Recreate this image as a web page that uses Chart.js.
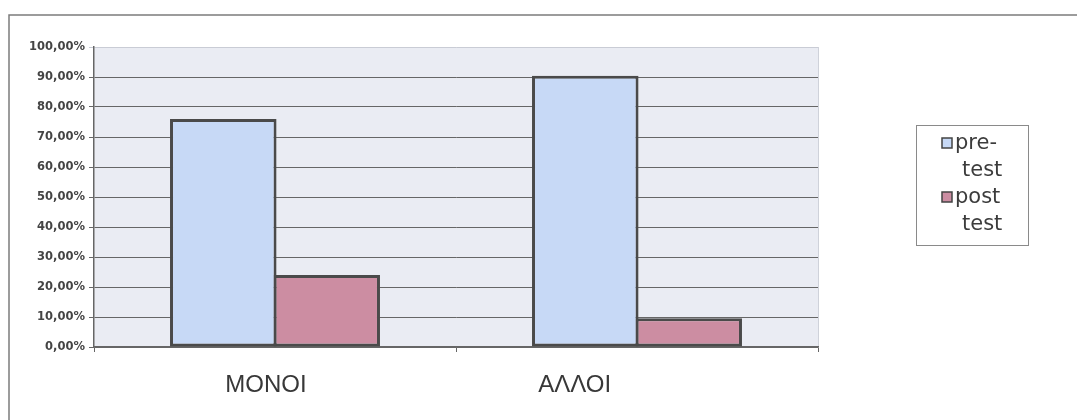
<!DOCTYPE html>
<html>
<head>
<meta charset="utf-8">
<script src="https://cdn.jsdelivr.net/npm/chart.js@4.4.1/dist/chart.umd.min.js"></script>
<style>
  html, body { margin: 0; padding: 0; background: #ffffff; }
  #wrap { width: 1077px; height: 420px; position: relative; }
</style>
</head>
<body>
<div id="wrap"><canvas id="chart" width="1077" height="420"></canvas></div>
<script>
// Share of answers per group, before and after the test (percent)
const categories = ["ΜΟΝΟΙ", "ΑΛΛΟΙ"];
const preTest = [76, 90.4];
const postTest = [24, 9.6];
const seriesLabels = [["pre-", "test"], ["post", "test"]];
const yTickValues = [0, 10, 20, 30, 40, 50, 60, 70, 80, 90, 100];
// trailing spaces appended to each category label
const labelTrail = [0, 16];

const colors = {
  pre: "#c7d9f6",
  post: "#cc8da2",
  barEdge: "#4a4a4a",
  plotBg: "#eaecf3",
  grid: "#666666",
  frame: "#7c7c7c",
  text: "#3c3c3c"
};

const fmtPct = v => v.toFixed(2).replace(".", ",") + "%";

// Page frame, plot background
const backdrop = {
  id: "backdrop",
  beforeDraw(chart) {
    const { ctx, chartArea: a } = chart;
    ctx.save();
    ctx.fillStyle = "#ffffff";
    ctx.fillRect(0, 0, chart.width, chart.height);
    ctx.fillStyle = colors.plotBg;
    ctx.fillRect(a.left, a.top, a.right - a.left, a.bottom - a.top);
    ctx.strokeStyle = "#cfd2da";
    ctx.lineWidth = 1;
    ctx.beginPath();
    ctx.moveTo(a.right + 0.5, a.top);
    ctx.lineTo(a.right + 0.5, a.bottom);
    ctx.stroke();
    ctx.strokeStyle = colors.frame;
    ctx.lineWidth = 1.5;
    ctx.beginPath();
    ctx.moveTo(9, chart.height);
    ctx.lineTo(9, 15);
    ctx.lineTo(chart.width, 15);
    ctx.stroke();
    ctx.restore();
  }
};

// Boxed legend with wrapped series names
const boxLegend = {
  id: "boxLegend",
  afterDraw(chart) {
    const { ctx, chartArea: a } = chart;
    const left = a.right + 98, top = 125, w = 112, h = 120;
    ctx.save();
    ctx.strokeStyle = "#8a8a8a";
    ctx.lineWidth = 1;
    ctx.strokeRect(left + 0.5, top + 0.5, w, h);
    ctx.font = "21px 'DejaVu Sans', sans-serif";
    ctx.textBaseline = "alphabetic";
    ctx.textAlign = "left";
    const lineH = 27;
    let base = top + 24;
    chart.data.datasets.forEach((ds, i) => {
      const lines = seriesLabels[i];
      ctx.fillStyle = ds.backgroundColor;
      ctx.fillRect(left + 26, base - 11, 10, 10);
      ctx.strokeStyle = "#444";
      ctx.lineWidth = 1.5;
      ctx.strokeRect(left + 26, base - 11, 10, 10);
      ctx.fillStyle = colors.text;
      lines.forEach((t, k) => {
        ctx.fillText(t, left + (k === 0 ? 39 : 46), base + k * lineH);
      });
      base += lines.length * lineH;
    });
    ctx.restore();
  }
};

new Chart(document.getElementById("chart"), {
  type: "bar",
  data: {
    labels: categories,
    datasets: [
      {
        label: seriesLabels[0].join(""),
        data: preTest,
        backgroundColor: colors.pre,
        borderColor: colors.barEdge,
        borderWidth: 3,
        borderSkipped: false
      },
      {
        label: seriesLabels[1].join(" "),
        data: postTest,
        backgroundColor: colors.post,
        borderColor: colors.barEdge,
        borderWidth: 3,
        borderSkipped: false
      }
    ]
  },
  options: {
    responsive: false,
    animation: false,
    devicePixelRatio: 1,
    layout: { padding: { top: 47, right: 259, left: 0, bottom: 0 } },
    datasets: { bar: { barPercentage: 1.03, categoryPercentage: 2 / 3.5 } },
    plugins: {
      legend: { display: false },
      tooltip: { enabled: false },
      title: { display: false }
    },
    scales: {
      x: {
        offset: true,
        afterFit(scale) { scale.height = 73; },
        grid: {
          offset: true,
          drawOnChartArea: false,
          drawTicks: true,
          tickLength: 5,
          color: colors.grid,
          lineWidth: 1
        },
        border: { display: true, color: colors.grid, width: 1.5 },
        ticks: {
          padding: 19,
          labelOffset: -9,
          maxRotation: 0,
          autoSkip: false,
          color: "#383838",
          font: { family: "'Liberation Sans Narrow', 'Liberation Sans', Arial, sans-serif", size: 24 },
          callback(value, index) {
            return categories[index] + " ".repeat(labelTrail[index]);
          }
        }
      },
      y: {
        min: 0,
        max: 100,
        afterFit(scale) { scale.width = 94; },
        afterBuildTicks(scale) { scale.ticks = yTickValues.map(v => ({ value: v })); },
        grid: {
          drawTicks: true,
          tickLength: 5,
          color: ctx => (ctx.tick && ctx.tick.value === 100 ? "#c9ccd5" : colors.grid),
          lineWidth: 1
        },
        border: { display: true, color: colors.grid, width: 1.5 },
        ticks: {
          padding: 4,
          color: "#444444",
          font: { family: "'DejaVu Sans', sans-serif", size: 11.5, weight: "bold" },
          callback: v => fmtPct(v)
        }
      }
    }
  },
  plugins: [backdrop, boxLegend]
});
</script>
</body>
</html>
